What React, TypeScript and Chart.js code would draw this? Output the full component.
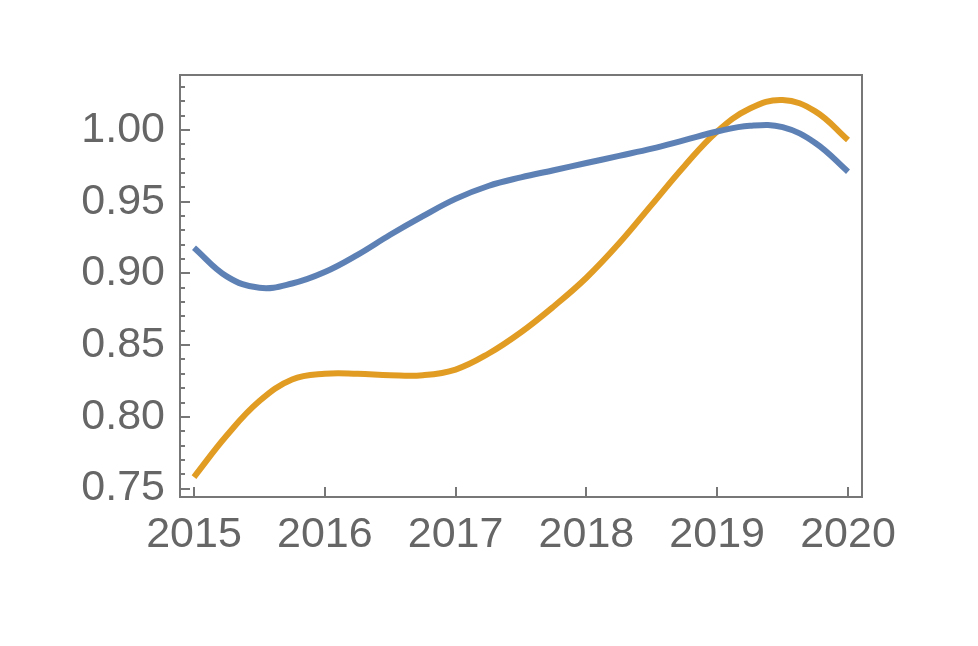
import { useEffect, useRef } from "react";
import { Chart, registerables } from "chart.js";

Chart.register(...registerables);

const years = [
  2015, 2015.25, 2015.5, 2015.75, 2016, 2016.25, 2016.5, 2016.75, 2017, 2017.25, 2017.5,
  2017.75, 2018, 2018.25, 2018.5, 2018.75, 2019, 2019.25, 2019.5, 2019.75, 2020,
];
const blueValues = [
  0.918, 0.898, 0.89, 0.893, 0.901, 0.913, 0.927, 0.94, 0.952, 0.961, 0.967,
  0.972, 0.977, 0.982, 0.987, 0.993, 0.999, 1.003, 1.002, 0.991, 0.971,
];
const orangeValues = [
  0.758, 0.787, 0.811, 0.826, 0.83, 0.83, 0.829, 0.829, 0.833, 0.844, 0.859,
  0.877, 0.897, 0.921, 0.948, 0.975, 0.999, 1.015, 1.021, 1.013, 0.993,
];
const xTickValues = [2015, 2016, 2017, 2018, 2019, 2020];
const yTickValues = [0.75, 0.8, 0.85, 0.9, 0.95, 1.0];

export default function App() {
  const ref = useRef<HTMLCanvasElement>(null);

  useEffect(() => {
    if (!ref.current) return;
    const framePlugin = {
      id: "frame",
      afterDraw(chart: any) {
        const { ctx, chartArea } = chart;
        const { left, right, top, bottom } = chartArea;
        const xs = chart.scales.x;
        const ys = chart.scales.y;
        ctx.save();
        ctx.strokeStyle = "#777777";
        ctx.lineWidth = 2;
        ctx.strokeRect(left, top, right - left, bottom - top);
        ctx.beginPath();
        for (const v of yTickValues) {
          const p = Math.round(ys.getPixelForValue(v));
          ctx.moveTo(left, p);
          ctx.lineTo(left + 10, p);
        }
        for (let i = 74; i <= 103; i++) {
          const v = i / 100;
          if (i % 5 === 0) continue;
          if (v < ys.min || v > ys.max) continue;
          const p = Math.round(ys.getPixelForValue(v));
          ctx.moveTo(left, p);
          ctx.lineTo(left + 5, p);
        }
        for (const v of xTickValues) {
          const p = Math.round(xs.getPixelForValue(v));
          ctx.moveTo(p, bottom);
          ctx.lineTo(p, bottom - 10);
        }
        ctx.stroke();
        ctx.restore();
      },
    };

    const font = { family: "'Liberation Sans', Arial, sans-serif", size: 43 };

    const chart = new Chart(ref.current, {
      type: "line",
      data: {
        datasets: [
          {
            data: years.map((x, i) => ({ x, y: blueValues[i] })),
            borderColor: "#5E81B5",
            borderWidth: 6,
            pointRadius: 0,
            tension: 0.4,
            fill: false,
          },
          {
            data: years.map((x, i) => ({ x, y: orangeValues[i] })),
            borderColor: "#E19C24",
            borderWidth: 6,
            pointRadius: 0,
            tension: 0.4,
            fill: false,
          },
        ],
      },
      options: {
        animation: false,
        responsive: true,
        maintainAspectRatio: false,
        layout: { padding: { top: 75, right: 116, left: 0, bottom: 0 } },
        plugins: { legend: { display: false }, tooltip: { enabled: false } },
        scales: {
          x: {
            type: "linear",
            min: 2014.893,
            max: 2020.107,
            grid: { display: false, drawTicks: false },
            border: { display: false },
            afterBuildTicks: (s: any) => {
              s.ticks = xTickValues.map((v) => ({ value: v }));
            },
            afterFit: (s: any) => {
              s.height = 149;
            },
            ticks: {
              autoSkip: false,
              maxRotation: 0,
              padding: 12,
              color: "#666",
              font,
              callback: (v: any) => String(v),
            },
          },
          y: {
            type: "linear",
            min: 0.7441,
            max: 1.0384,
            grid: { display: false, drawTicks: false },
            border: { display: false },
            afterBuildTicks: (s: any) => {
              s.ticks = yTickValues.map((v) => ({ value: v }));
            },
            afterFit: (s: any) => {
              s.width = 180;
            },
            ticks: {
              autoSkip: false,
              padding: 15,
              color: "#666",
              font,
              callback: (v: any) => Number(v).toFixed(2),
            },
          },
        },
      },
      plugins: [framePlugin],
    });
    return () => chart.destroy();
  }, []);

  return (
    <div style={{ position: "absolute", left: 0, top: 0, width: 978, height: 646, background: "#fff" }}>
      <canvas ref={ref} />
    </div>
  );
}
